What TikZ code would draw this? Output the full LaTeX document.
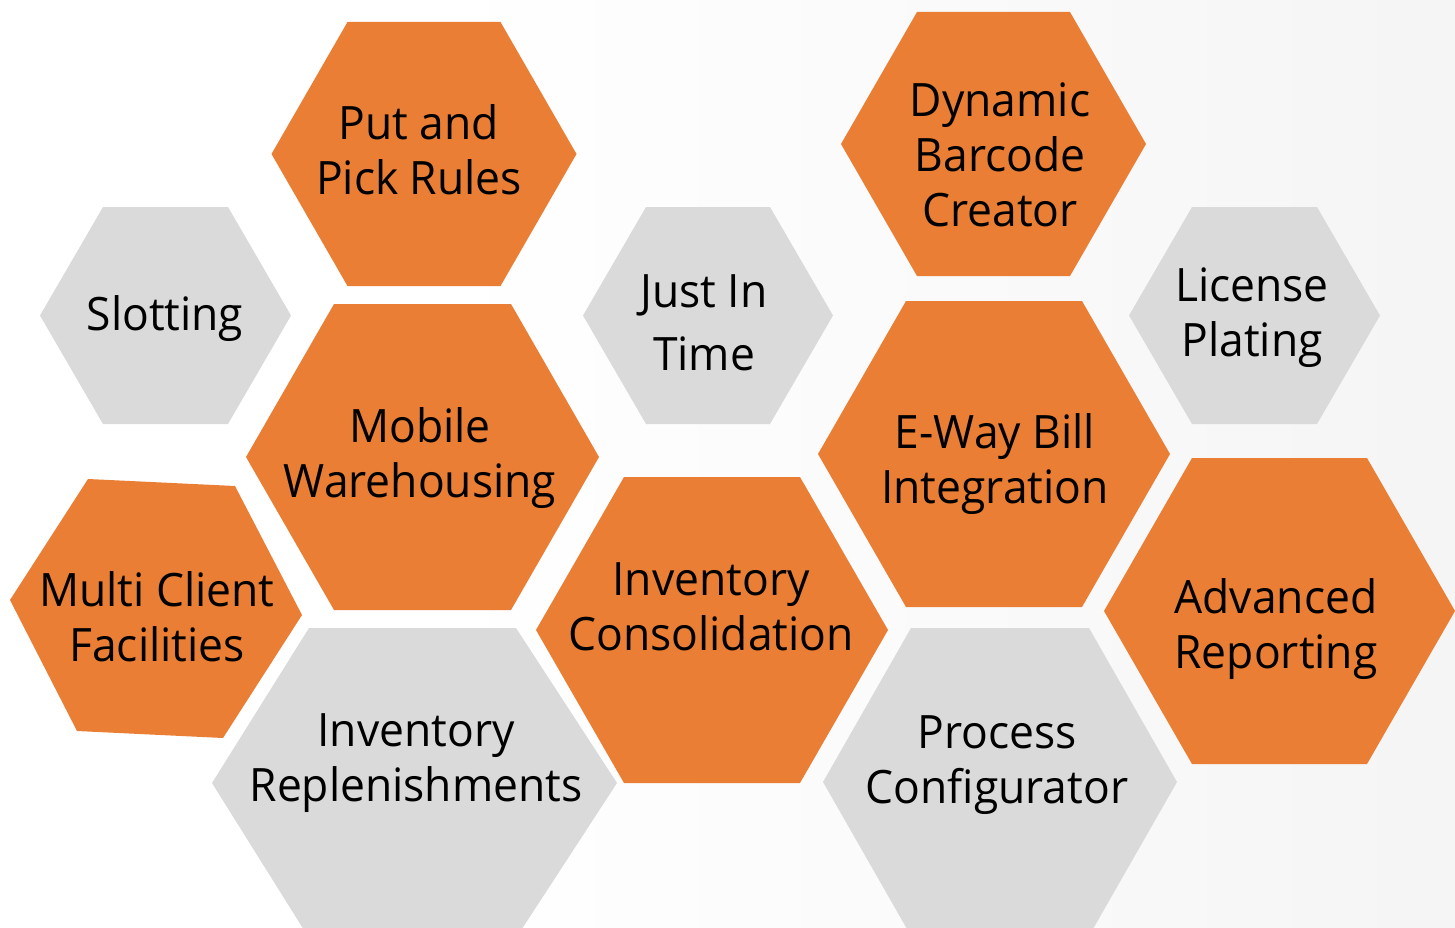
\documentclass[tikz,border=0pt]{standalone}
\usepackage{fontspec}
\setmainfont{Open Sans}[FakeStretch=0.965]
\definecolor{hexorange}{RGB}{233,126,52}
\definecolor{hexgray}{RGB}{218,218,218}
\definecolor{bgA}{RGB}{248,248,248}
\definecolor{bgB}{RGB}{236,236,236}
\pgfdeclarehorizontalshading{bgshade}{100bp}{color(0bp)=(white); color(40bp)=(white); color(65bp)=(bgA); color(100bp)=(bgB)}
\tikzset{
  lbl/.style={font=\fontsize{46}{55}\selectfont, align=center, text=black, inner sep=0pt,
    execute at begin node=\strut, execute at end node=\strut},
  orangehex/.style={fill=hexorange},
  grayhex/.style={fill=hexgray},
}
\begin{document}
\begin{tikzpicture}[x=1pt,y=-1pt]
\useasboundingbox (0,0) rectangle (1455,928);
\clip (0,0) rectangle (1455,928);
\shade[shading=bgshade] (0,0) rectangle (1455,928);

% hexagons
\fill[orangehex] (271.5,154) -- (347.5,22) -- (500.5,22) -- (576.5,154) -- (500.5,286) -- (347.5,286) -- cycle;
\fill[orangehex] (841,144) -- (917,12) -- (1070,12) -- (1146,144) -- (1070,276) -- (917,276) -- cycle;
\fill[grayhex] (40,315.5) -- (103,207) -- (228,207) -- (291,315.5) -- (228,424) -- (103,424) -- cycle;
\fill[grayhex] (583,315.5) -- (646,207) -- (770,207) -- (833,315.5) -- (770,424) -- (646,424) -- cycle;
\fill[grayhex] (1129,315.5) -- (1192,207) -- (1317,207) -- (1380,315.5) -- (1317,424) -- (1192,424) -- cycle;
\fill[orangehex] (246,457) -- (334,304) -- (511,304) -- (599,457) -- (511,610) -- (334,610) -- cycle;
\fill[orangehex] (818,454) -- (906,301) -- (1082,301) -- (1170,454) -- (1082,607) -- (906,607) -- cycle;
\fill[orangehex] (88,479) -- (235,486) -- (302,615) -- (223,738) -- (77,731) -- (10,600) -- cycle;
\fill[orangehex] (536,630) -- (624,477) -- (800,477) -- (888,630) -- (800,783) -- (624,783) -- cycle;
\fill[orangehex] (1104,611) -- (1192,458) -- (1367,458) -- (1455,611) -- (1367,764) -- (1192,764) -- cycle;
\fill[grayhex] (212,783) -- (309,628) -- (516,628) -- (617,783) -- (516,938) -- (309,938) -- cycle;
\fill[grayhex] (823,782) -- (911,628) -- (1089,628) -- (1177,782) -- (1089,936) -- (911,936) -- cycle;

% labels
\node[lbl] (putpick) at (419,157.5) {Put and\\Pick Rules};
\node[lbl] (barcode) at (1000,163) {Dynamic\\Barcode\\Creator};
\node[lbl] (slotting) at (165,319) {Slotting};
\node[lbl] (jit) at (704,331) {Just In\\[8pt]Time};
\node[lbl] (license) at (1252,320) {License\\Plating};
\node[lbl] (mobile) at (420,461) {Mobile\\Warehousing};
\node[lbl] (eway) at (995,466.5) {E-Way Bill\\Integration};
\node[lbl] (multi) at (157,624.5) {Multi Client\\Facilities};
\node[lbl] (consol) at (711,614.5) {Inventory\\Consolidation};
\node[lbl] (report) at (1276,631.5) {Advanced\\Reporting};
\node[lbl] (replen) at (416,765.5) {Inventory\\Replenishments};
\node[lbl] (process) at (997,767.5) {Process\\Configurator};
\end{tikzpicture}
\end{document}
